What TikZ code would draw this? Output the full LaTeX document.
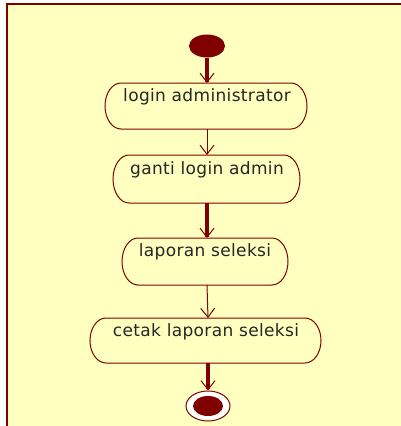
\documentclass[tikz,border=0pt]{standalone}
\usepackage{fontspec}
\setmainfont{DejaVu Sans}[LetterSpace=2]
\usetikzlibrary{arrows.meta,shapes.geometric}
\definecolor{bg}{HTML}{FFFFC0}
\definecolor{dred}{HTML}{800000}
\newcommand\actshape[4]{% x1, y1, x2, y2
  \pgfmathsetmacro\ry{(#4-#3)/2}%
  \draw[act] ({#1+16},#3) -- ({#2-16},#3)
    arc[start angle=-90, end angle=90, x radius=16, y radius=\ry]
    -- ({#1+16},#4)
    arc[start angle=90, end angle=270, x radius=16, y radius=\ry] -- cycle;}
\tikzset{
  act/.style={draw=dred, fill=bg, line width=1pt},
  lbl/.style={font=\fontsize{17}{20}\selectfont, text=black!85},
  flowthin/.style={draw=dred, line width=1pt, -{Straight Barb[length=9pt,width=14pt,line width=1pt]}},
  flowthick/.style={draw=dred, line width=3.2pt, -{Straight Barb[length=9pt,width=14pt,line width=1pt]}},
}
\begin{document}
\begin{tikzpicture}[x=1pt,y=-1pt]
\useasboundingbox (0,0) rectangle (401,426);
\fill[white] (0,0) rectangle (401,426);
\fill[bg] (6.5,4) rectangle (403,428);
\draw[dred, line width=2pt] (403,4) -- (6.5,4) -- (6.5,428);
% start
\node[ellipse, fill=dred, minimum width=36pt, minimum height=23pt, inner sep=0pt] (start) at (207,46) {};
% activities
\actshape{105}{307}{83}{129}
\node[lbl] (a1) at (207,97) {login administrator};
\coordinate (a1t) at (207,83); \coordinate (a1b) at (207,129);
\actshape{113}{300}{155}{203}
\node[lbl] (a2) at (207,170) {ganti login admin};
\coordinate (a2t) at (207,155); \coordinate (a2b) at (207,203);
\actshape{122}{288}{238}{285}
\node[lbl] (a3) at (205,252) {laporan seleksi};
\coordinate (a3t) at (207,238); \coordinate (a3b) at (207,285);
\actshape{90}{321}{318}{363}
\node[lbl] (a4) at (206,332) {cetak laporan seleksi};
\coordinate (a4t) at (208,318); \coordinate (a4b) at (208,363);
% end
\node[ellipse, draw=dred, fill=white, line width=1pt, minimum width=44pt, minimum height=30pt, inner sep=0pt] (end) at (208,406) {};
\node[ellipse, fill=dred, minimum width=30pt, minimum height=20pt, inner sep=0pt] (endin) at (end.center) {};
% arrows
\draw[flowthick] (start.south) -- (a1t);
\draw[flowthin] (a1b) -- (a2t);
\draw[flowthick] (a2b) -- (a3t);
\draw[flowthin] (a3b) -- (a4t);
\draw[flowthick] (a4b) -- (end.north);
\end{tikzpicture}
\end{document}
